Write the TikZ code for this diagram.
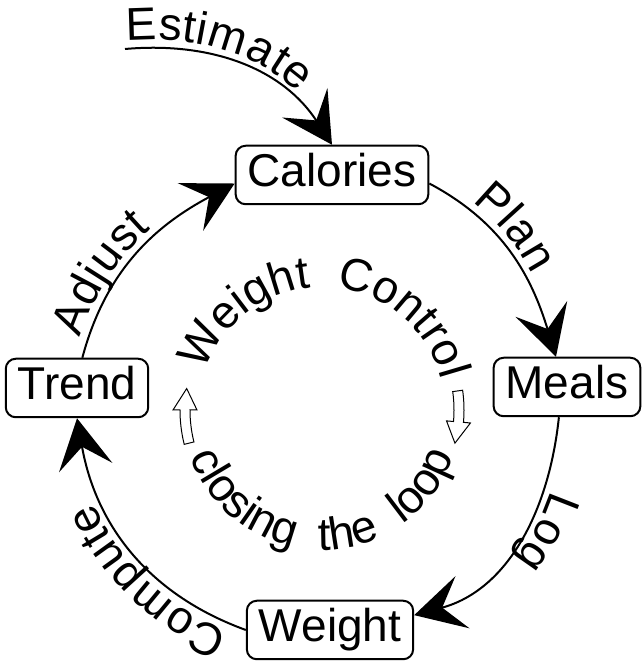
\documentclass[tikz,border=0pt]{standalone}
\usepackage{fontspec}
\setmainfont{Liberation Sans}
\usepackage{tikz}
\usetikzlibrary{arrows.meta,decorations.text}
\newcommand{\loopfont}{\fontsize{46}{50}\selectfont}

\begin{document}
\begin{tikzpicture}[
      x=1pt, y=1pt,
      stage/.style={rectangle, draw, line width=2pt, rounded corners=10pt,
                    fill=white, inner xsep=12pt, inner ysep=8pt,
                    text height=33pt, text depth=9.5pt, font=\loopfont},
      flow/.style={line width=2pt, -{Stealth[length=50pt, width=54pt, inset=21pt]}},
      along/.style 2 args={postaction={decorate, decoration={text along path, raise=8pt,
                    text align={#1}, text={|\loopfont|#2}}}},
      ring/.style={decorate, decoration={text along path, text align=center,
                    text={|\loopfont|#1}}},
      hollow/.style={draw, fill=white, line width=1pt},
    ]
    \useasboundingbox (0,0) rectangle (641,661);
    \coordinate (ctr) at (322,251);
    \coordinate (est) at (125,612);

    \node[stage] (cal) at (332,486) {Calories};
    \node[stage] (meals) at (567,274) {Meals};
    \node[stage] (weight) at (330,31) {Weight};
    \node[stage] (trend) at (77,273) {Trend};

    \draw[flow, along={left indent=2pt}{Estimate}] (est) to[out=5, in=123] (cal.north);
    \draw[flow, along={left indent=45pt}{Plan}] (cal.-5) to[out=-28, in=107] (meals.110);
    \draw[flow, along={left indent=72pt}{Log}] (meals.-105) to[out=-96, in=15] (weight.10);
    \draw[flow, along={left indent=15pt}{Compute}] (weight.west) to[out=160, in=-80] (trend.south);
    \draw[flow, along={left indent=18pt}{Adjust}] (trend.80) to[out=75, in=-152] (cal.185);

    % inner ring
    \path[ring={Weight~~Control}]
          ([shift={(163:123)}]ctr) arc[start angle=163, end angle=13, radius=123];
    \path[ring={closing~~the~~loop}]
          ([shift={(196:140)}]ctr) arc[start angle=196, end angle=344, radius=140];

    \draw[hollow] ([shift={(194:132)}]ctr) arc[start angle=194, end angle=180, radius=132]
          -- ([shift={(180:125)}]ctr) -- ([shift={(171:137)}]ctr) -- ([shift={(180:149)}]ctr)
          -- ([shift={(180:142)}]ctr) arc[start angle=180, end angle=194, radius=142] -- cycle;
    \draw[hollow] ([shift={(8:132)}]ctr) arc[start angle=8, end angle=-5, radius=132]
          -- ([shift={(-5:125)}]ctr) -- ([shift={(-14:137)}]ctr) -- ([shift={(-5:149)}]ctr)
          -- ([shift={(-5:142)}]ctr) arc[start angle=-5, end angle=8, radius=142] -- cycle;
  \end{tikzpicture}
\end{document}
